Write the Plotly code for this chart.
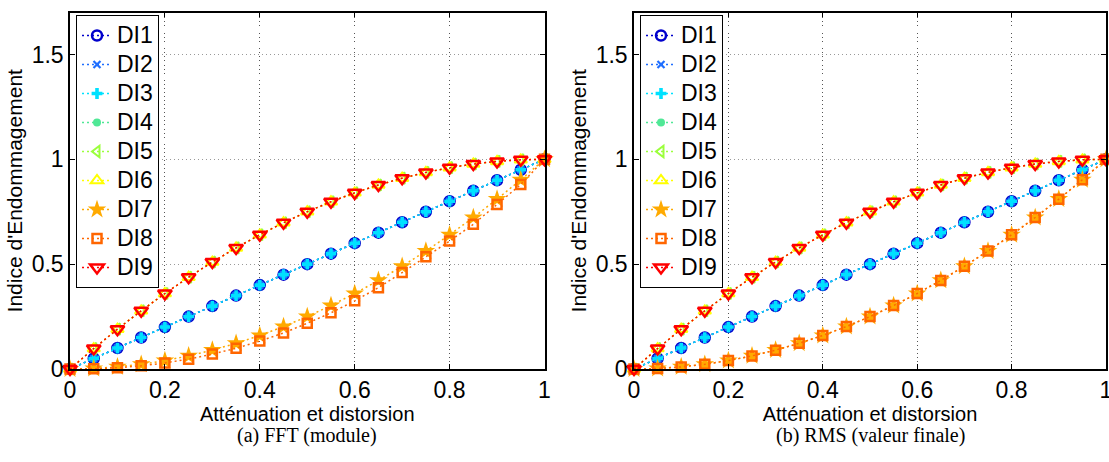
import plotly.graph_objects as go

# ---------------- data ----------------
x_vals = [0, 0.05, 0.10, 0.15, 0.20, 0.25, 0.30, 0.35, 0.40, 0.45, 0.50,
          0.55, 0.60, 0.65, 0.70, 0.75, 0.80, 0.85, 0.90, 0.95, 1.0]

linear_di = [0, 0.05, 0.10, 0.15, 0.20, 0.25, 0.30, 0.35, 0.40, 0.45, 0.50,
             0.55, 0.60, 0.65, 0.70, 0.75, 0.80, 0.85, 0.90, 0.95, 1.0]

concave_di = [0, 0.0975, 0.19, 0.2775, 0.36, 0.4375, 0.51, 0.5775, 0.64, 0.6975, 0.75,
              0.7975, 0.84, 0.8775, 0.91, 0.9375, 0.96, 0.9775, 0.99, 0.9975, 1.0]

convex_di = [0, 0.0025, 0.01, 0.0225, 0.04, 0.0625, 0.09, 0.1225, 0.16, 0.2025, 0.25,
             0.3025, 0.36, 0.4225, 0.49, 0.5625, 0.64, 0.7225, 0.81, 0.9025, 1.0]

convex_fft_di8 = [0, 0.001, 0.006, 0.015, 0.029, 0.047, 0.071, 0.099, 0.133, 0.172, 0.218,
                  0.268, 0.325, 0.388, 0.46, 0.535, 0.61, 0.69, 0.785, 0.88, 1.0]

series_names = ["DI1", "DI2", "DI3", "DI4", "DI5", "DI6", "DI7", "DI8", "DI9"]

fft_series = [linear_di, linear_di, linear_di, linear_di,
              concave_di, concave_di, convex_di, convex_fft_di8, concave_di]
rms_series = [linear_di, linear_di, linear_di, linear_di,
              concave_di, concave_di, convex_di, convex_di, concave_di]

x_ticks = [0, 0.2, 0.4, 0.6, 0.8, 1]
x_ticktext = ["0", "0.2", "0.4", "0.6", "0.8", "1"]
y_ticks = [0, 0.5, 1, 1.5]
y_ticktext = ["0", "0.5", "1", "1.5"]

captions = ["(a) FFT (module)", "(b) RMS (valeur finale)"]
x_title = "Atténuation et distorsion"
y_title = "Indice d'Endommagement"

# ---------------- styles ----------------
colors = ["#0000CC", "#1E6EFF", "#00E1FF", "#50E896", "#9BFF3C",
          "#FFFF00", "#FFAA00", "#FF6600", "#FF0000"]
symbols = ["circle-open", "x-thin-open", "cross", "circle", "triangle-left-open",
           "triangle-up-open", "star", "square-open", "triangle-down-open"]
sizes = [10, 7, 9, 8, 10, 11, 14, 9, 12]
mlw = [2.5, 2.2, 0, 0, 2, 2, 0, 2.5, 2.5]
# drawing order (legend order kept with legendrank)
draw_order = [3, 0, 1, 2, 4, 5, 6, 7, 8]

W, H = 1109, 462
fig = go.Figure()

panels = [("x", "y", "legend", fft_series), ("x2", "y2", "legend2", rms_series)]
for xa, ya, leg, data in panels:
    for i in draw_order:
        fig.add_trace(go.Scatter(
            x=x_vals, y=data[i],
            name='<span style="font-size:23px">' + series_names[i] + '</span>',
            xaxis=xa, yaxis=ya, legend=leg, legendrank=i + 1,
            mode="lines+markers", cliponaxis=False,
            line=dict(color=colors[i], width=1.5, dash="2px,3px"),
            marker=dict(symbol=symbols[i], size=sizes[i], color=colors[i],
                        line=dict(color=colors[i], width=mlw[i])),
        ))

tick_font = dict(family="Liberation Sans, Arial", size=23, color="black")
xtitle_font = dict(family="Liberation Sans, Arial", size=20, color="black")
ytitle_font = dict(family="Liberation Sans, Arial", size=21, color="black")

def xaxis_cfg(domain, anchor):
    return dict(domain=domain, anchor=anchor, range=[0, 1], tickvals=x_ticks,
                ticktext=x_ticktext, ticks="inside", ticklen=5, tickcolor="black",
                showline=True, linecolor="black", linewidth=1.5, mirror="ticks",
                showgrid=True, gridcolor="#555", griddash="1px,3px", gridwidth=1,
                zeroline=False, tickfont=tick_font, automargin=False,
                ticklabeloverflow="allow",
                title=dict(text=x_title, font=xtitle_font, standoff=0))

def yaxis_cfg(domain, anchor):
    return dict(domain=domain, anchor=anchor, range=[0, 1.7], tickvals=y_ticks,
                ticktext=y_ticktext, ticks="inside", ticklen=5, tickcolor="black",
                showline=True, linecolor="black", linewidth=1.5, mirror="ticks",
                showgrid=True, gridcolor="#999", griddash="1px,3px", gridwidth=1,
                zeroline=False, tickfont=tick_font, automargin=False,
                ticklabeloverflow="allow",
                title=dict(text=y_title, font=ytitle_font, standoff=3))

legend_font = dict(family="Liberation Sans, Arial", size=20, color="black")
ydom = [(H - 369) / H, (H - 12.5) / H]
fig.update_layout(
    width=W, height=H, margin=dict(l=0, r=0, t=0, b=0),
    paper_bgcolor="white", plot_bgcolor="white",
    xaxis=xaxis_cfg([70 / W, 544.5 / W], "y"),
    yaxis=yaxis_cfg(ydom, "x"),
    xaxis2=xaxis_cfg([634 / W, 1106 / W], "y2"),
    yaxis2=yaxis_cfg(ydom, "x2"),
    legend=dict(x=76 / W, y=1 - 15 / H, xanchor="left", yanchor="top",
                bgcolor="white", bordercolor="black", borderwidth=1,
                font=legend_font, tracegroupgap=0),
    legend2=dict(x=640 / W, y=1 - 15 / H, xanchor="left", yanchor="top",
                 bgcolor="white", bordercolor="black", borderwidth=1,
                 font=legend_font, tracegroupgap=0),
    showlegend=True,
)

cap_font = dict(family="Liberation Serif, Times New Roman", size=20, color="black")
fig.add_annotation(text=captions[0], x=307 / W, y=1 - 435 / H, xref="paper", yref="paper",
                   showarrow=False, font=cap_font, xanchor="center", yanchor="middle")
fig.add_annotation(text=captions[1], x=870 / W, y=1 - 435 / H, xref="paper", yref="paper",
                   showarrow=False, font=cap_font, xanchor="center", yanchor="middle")

fig.write_html("out.html", config={"displayModeBar": False},
               post_script="document.body.style.margin='0px';")
